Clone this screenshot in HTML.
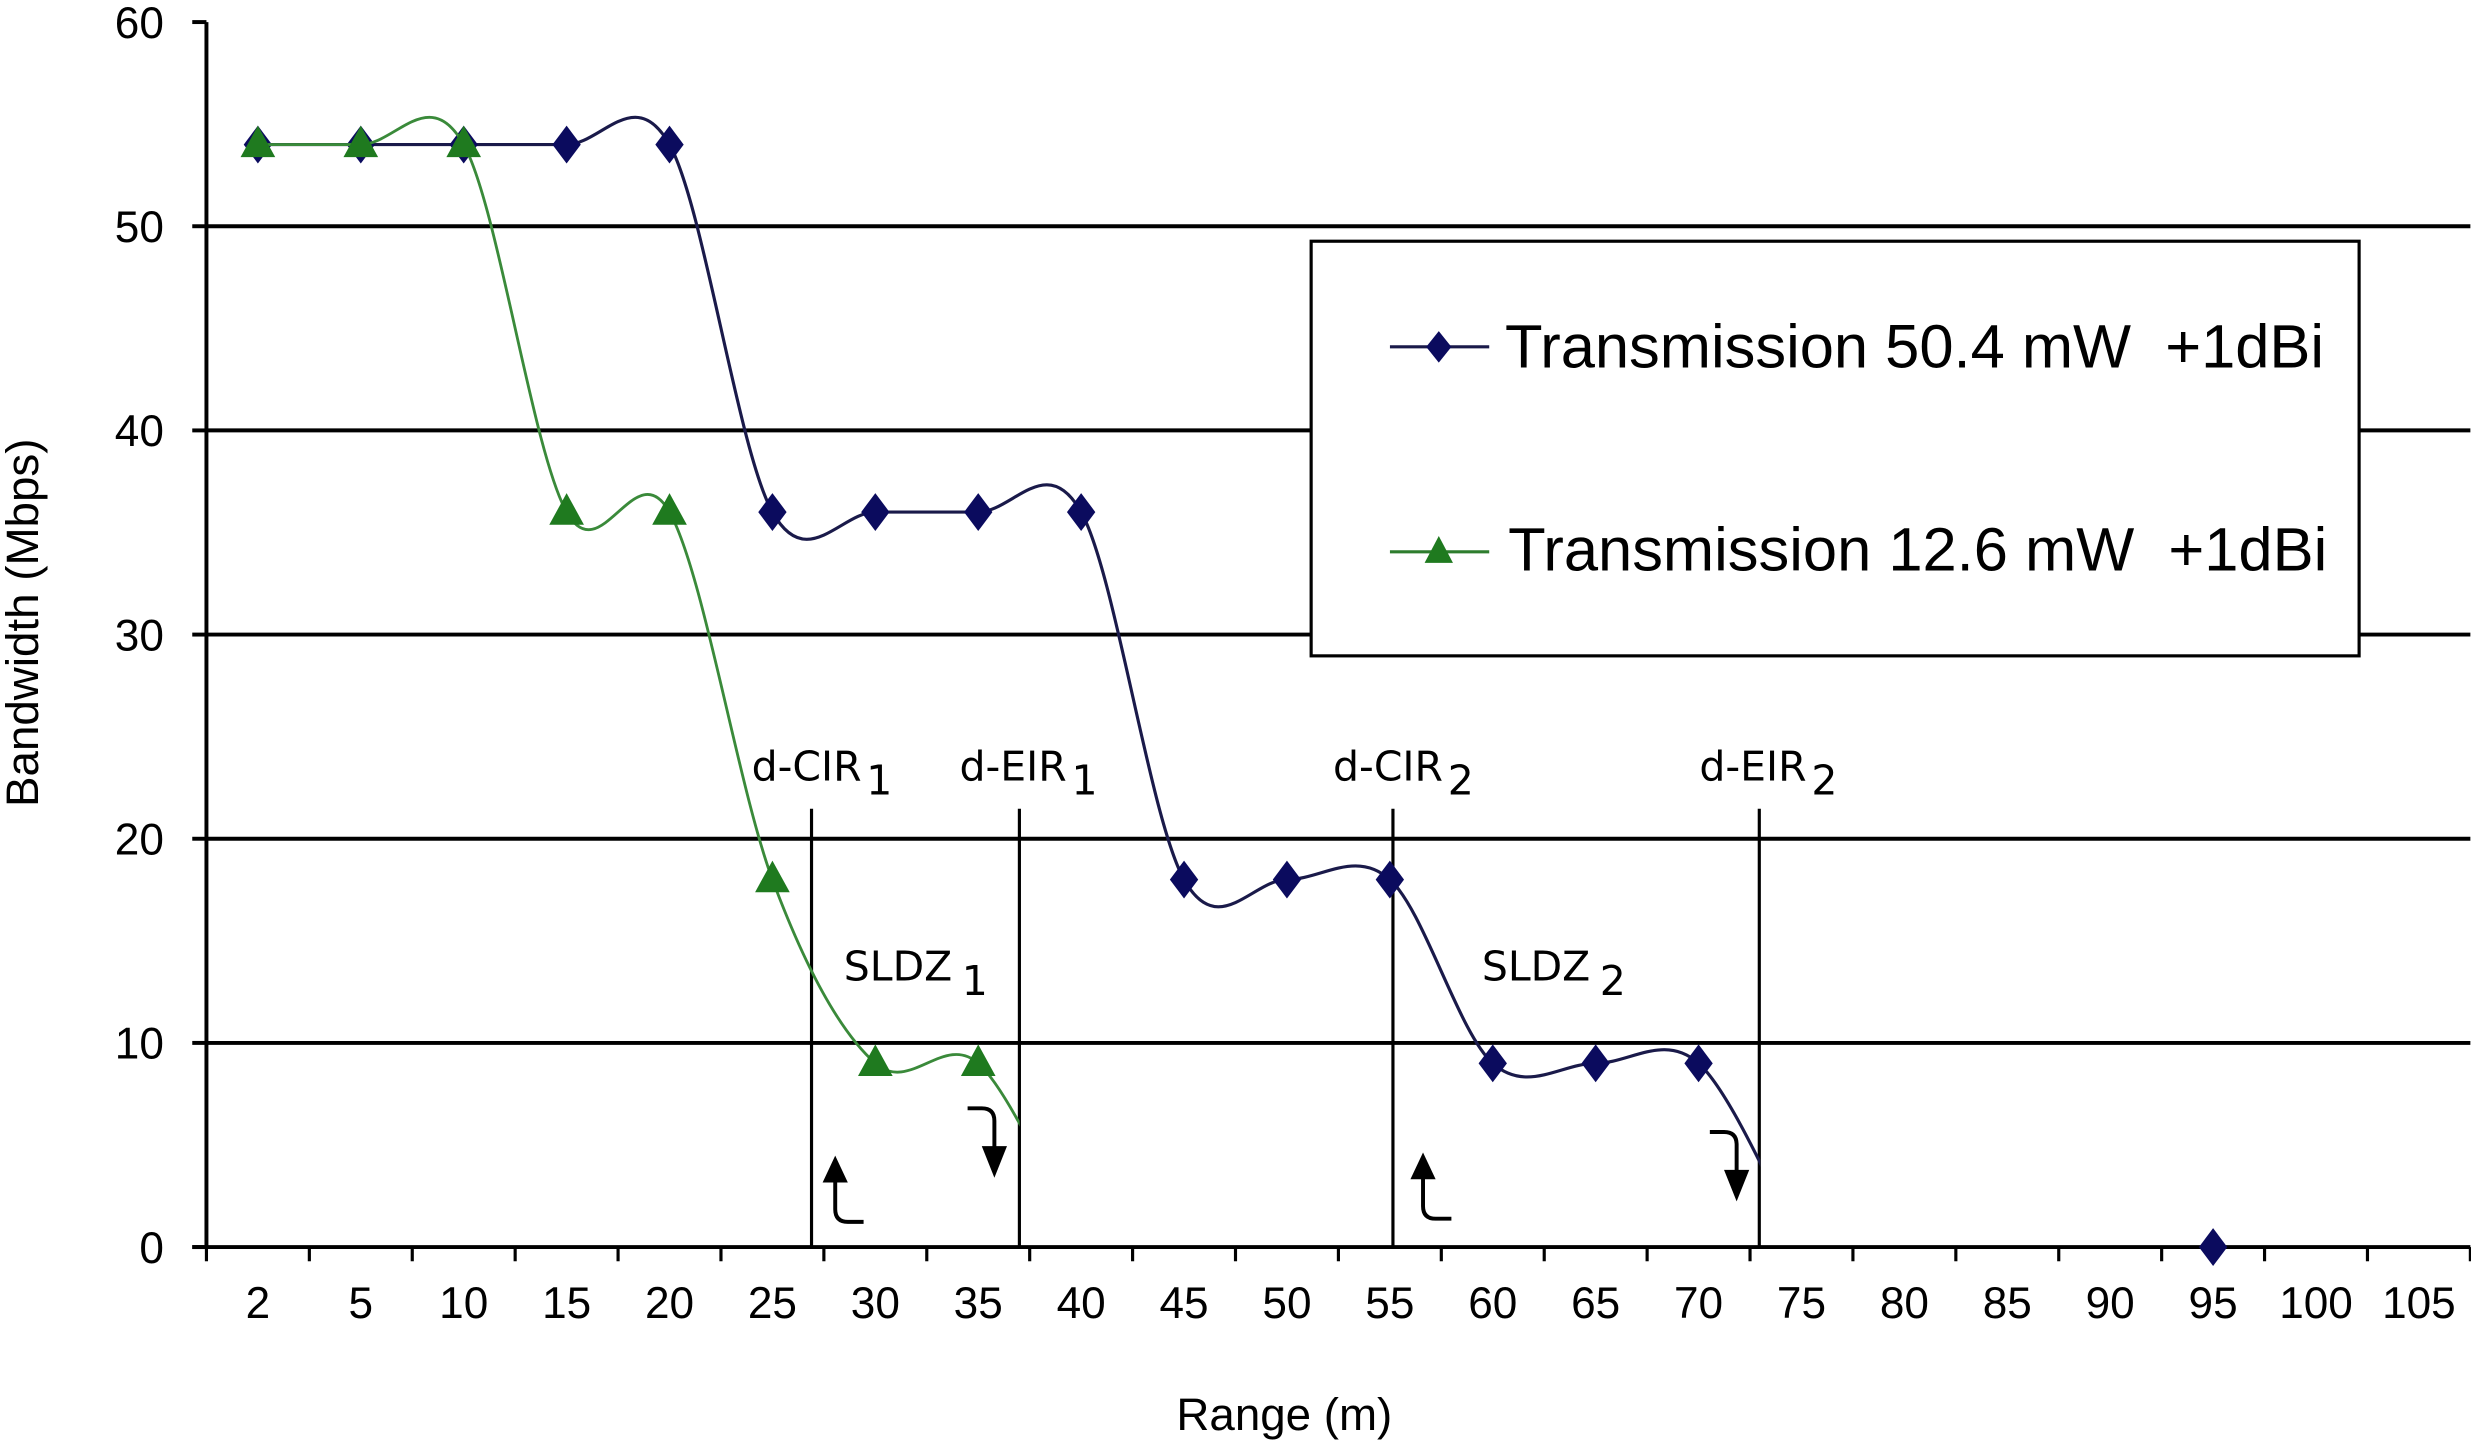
<!DOCTYPE html>
<html><head><meta charset="utf-8"><style>
html,body{margin:0;padding:0;background:#fff;width:2471px;height:1441px;overflow:hidden}
svg{display:block}
text{font-family:"Liberation Sans",sans-serif;fill:#000}
.ann{font-family:"DejaVu Sans","Liberation Sans",sans-serif;font-size:26px}
</style></head><body>
<svg id="chart" width="2471" height="1441" viewBox="0 0 1568 914" preserveAspectRatio="none" xmlns="http://www.w3.org/2000/svg">
<defs><clipPath id="clipBlue"><rect x="131" y="0" width="986" height="914"/></clipPath>
<clipPath id="clipGreen"><rect x="131" y="0" width="516" height="914"/></clipPath></defs>
<g id="grid"></g>
<g id="axes"></g>
<g id="annot"></g>
<g id="series"></g>
<g id="legend">
<rect x="832" y="153" width="665" height="263" fill="#fff" stroke="#000" stroke-width="2"/>
<g>
<line x1="882" y1="220" x2="945" y2="220" stroke="#1a1a4a" stroke-width="2"/>
<polygon points="913,210 921,220 913,230 905,220" fill="#0b0b5e"/>
<text x="955" y="233" font-size="39">Transmission 50.4 mW&#160; +1dBi</text></g>
<g>
<line x1="882" y1="350" x2="945" y2="350" stroke="#2e7d2e" stroke-width="2"/>
<polygon points="913,340 922,357 904,357" fill="#1f7a1f"/>
<text x="957" y="362" font-size="39">Transmission 12.6 mW&#160; +1dBi</text></g>
</g>
</svg>
<script>
const categories = ["2","5","10","15","20","25","30","35","40","45","50","55","60","65","70","75","80","85","90","95","100","105"];
const blueValues = [54,54,54,54,54,36,36,36,36,18,18,18,9,9,9,0];
const blueMarkers = [54,54,54,54,54,36,36,36,36,18,18,18,9,9,9,null,null,null,null,0];
const greenValues = [54,54,54,36,36,18,9,9,0];
const greenMarkers = [54,54,54,36,36,18,9,9];
const yTicks = [0,10,20,30,40,50,60];
const markerLines = [{label:"d-CIR",sub:"1",pos:5.38},{label:"d-EIR",sub:"1",pos:7.40},{label:"d-CIR",sub:"2",pos:11.03},{label:"d-EIR",sub:"2",pos:14.59}];
const zones = [{label:"SLDZ",sub:"1",pos:6.0},{label:"SLDZ",sub:"2",pos:12.2}];

const NS="http://www.w3.org/2000/svg";
const X0=131, XW=65.3, Y0=791, YS=12.95;
const xs=i=>X0+XW*(i+0.5);
const ys=v=>Y0-v*YS;
function mk(tag,attrs,parent){const e=document.createElementNS(NS,tag);for(const k in attrs)e.setAttribute(k,attrs[k]);parent.appendChild(e);return e;}
const grid=document.getElementById('grid'),axes=document.getElementById('axes'),ann=document.getElementById('annot'),ser=document.getElementById('series');
const xEnd=X0+XW*categories.length;
yTicks.forEach(v=>{
  if(v>0&&v<60){const l=mk('line',{x1:X0,y1:ys(v),x2:xEnd,y2:ys(v),stroke:'#000','stroke-width':2.5},grid);
  
  }
  const t=mk('line',{x1:X0-9,y1:ys(v),x2:X0,y2:ys(v),stroke:'#000','stroke-width':2.5},axes);
  
  
  const tx=mk('text',{x:104,y:ys(v)+10,'font-size':28,'text-anchor':'end'},axes);tx.textContent=v;
  
  
});
const ya=mk('line',{x1:X0,y1:ys(60),x2:X0,y2:Y0,stroke:'#000','stroke-width':2.5},axes);


const xa=mk('line',{x1:X0-9,y1:Y0,x2:xEnd,y2:Y0,stroke:'#000','stroke-width':2.5},axes);


for(let k=0;k<=categories.length;k++){const t=mk('line',{x1:X0+XW*k,y1:Y0,x2:X0+XW*k,y2:Y0+9,stroke:'#000','stroke-width':2},axes);

}
categories.forEach((c,i)=>{const t=mk('text',{x:xs(i),y:836,'font-size':28,'text-anchor':'middle'},axes);t.textContent=c;

});
const xt=mk('text',{x:815,y:907,'font-size':29,'text-anchor':'middle'},axes);xt.textContent='Range (m)';


const yt=mk('text',{x:0,y:0,'font-size':29,'text-anchor':'middle',transform:'translate(24,395) rotate(-90)'},axes);yt.textContent='Bandwidth (Mbps)';



markerLines.forEach(m=>{const x=xs(m.pos);
  const l=mk('line',{x1:x,y1:513,x2:x,y2:Y0,stroke:'#000','stroke-width':2},ann);
  
  
  const t=mk('text',{x:x-38,y:495,class:'ann'},ann);t.textContent=m.label;
  const s=mk('tspan',{dy:9,dx:3,'font-size':26},t);s.textContent=m.sub;
  
  });
zones.forEach(z=>{const t=mk('text',{x:xs(z.pos)-20,y:622,class:'ann','font-size':23},ann);t.textContent=z.label;
  const s=mk('tspan',{dy:9,dx:6},t);s.textContent=z.sub;
  
  });
function upArrow(x,tipY,botY){const g=mk('g',{},ann);
  
  
  mk('path',{d:`M${x} ${tipY+14} L${x} ${botY-8} Q${x} ${botY} ${x+8} ${botY} L${x+18} ${botY}`,stroke:'#000','stroke-width':2.5,fill:'none'},g);
  mk('polygon',{points:`${x},${tipY} ${x+8},${tipY+17} ${x-8},${tipY+17}`,fill:'#000'},g);}
function downArrow(x,topY,tipY){const g=mk('g',{},ann);
  
  
  mk('path',{d:`M${x-17} ${topY} L${x-8} ${topY} Q${x} ${topY} ${x} ${topY+8} L${x} ${tipY-14}`,stroke:'#000','stroke-width':2.5,fill:'none'},g);
  mk('polygon',{points:`${x},${tipY} ${x+8},${tipY-20} ${x-8},${tipY-20}`,fill:'#000'},g);}
upArrow(530,733,775);upArrow(903,731,773);downArrow(631,703,747);downArrow(1102,718,762);

function smooth(vals){const p=vals.map((v,i)=>[xs(i),ys(v)]);let d=`M${p[0][0]} ${p[0][1]}`;
  for(let i=0;i<p.length-1;i++){const a=p[Math.max(0,i-1)],b=p[i],c=p[i+1],e=p[Math.min(p.length-1,i+2)];
    const c1=[b[0]+(c[0]-a[0])/6,b[1]+(c[1]-a[1])/6],c2=[c[0]-(e[0]-b[0])/6,c[1]-(e[1]-b[1])/6];
    d+=` C${c1[0]} ${c1[1]} ${c2[0]} ${c2[1]} ${c[0]} ${c[1]}`;}return d;}
const bl=mk('path',{d:smooth(blueValues),fill:'none',stroke:'#1a1a4a','stroke-width':2,'clip-path':'url(#clipBlue)'},ser);


blueMarkers.forEach((v,i)=>{if(v===null)return;const x=xs(i),y=ys(v);
  const m=mk('polygon',{points:`${x},${y-12} ${x+9},${y} ${x},${y+12} ${x-9},${y}`,fill:'#0b0b5e'},ser);
  
  });
const gl=mk('path',{d:smooth(greenValues),fill:'none',stroke:'#3a8a3a','stroke-width':1.8,'clip-path':'url(#clipGreen)'},ser);


greenMarkers.forEach((v,i)=>{const x=xs(i),y=ys(v);
  const m=mk('polygon',{points:`${x},${y-12} ${x+11},${y+8} ${x-11},${y+8}`,fill:'#1f7a1f'},ser);
  
  });
</script>
</body></html>
